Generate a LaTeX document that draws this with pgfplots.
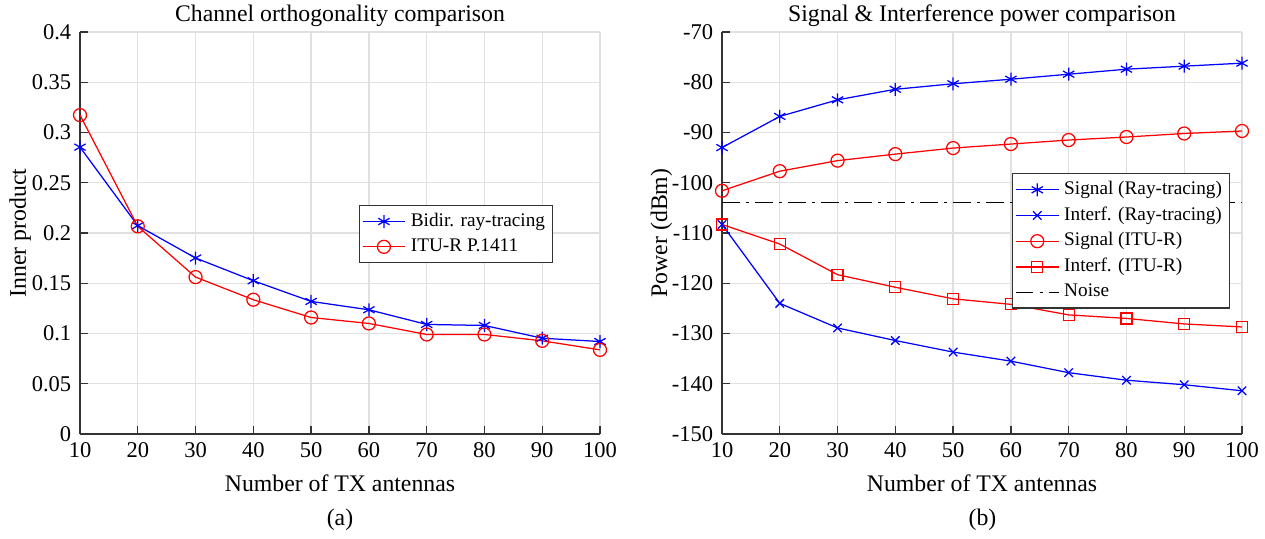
\documentclass[border=0pt]{standalone}
\usepackage{fontspec}
\setmainfont{Liberation Serif}
\usepackage{pgfplots}
\pgfplotsset{compat=1.18}

\pgfplotsset{
  mstyle/.style={
    scale only axis, width=208pt, height=160.8pt,
    anchor=south west,
    xmin=10, xmax=100, xtick={10,20,...,100},
    axis x line*=bottom, axis y line*=left,
    axis line style={line width=0.5pt, black!80},
    tick align=inside, major tick length=3pt,
    tick style={black!80, line width=0.5pt},
    grid=major, grid style={line width=0.5pt, black!12},
    font=\fontsize{9}{10.5}\selectfont,
    tick label style={font=\fontsize{9}{10.5}\selectfont},
    label style={font=\fontsize{9.5}{11}\selectfont},
    title style={font=\fontsize{9.5}{11}\selectfont, yshift=-7.5pt},
    /pgf/number format/assume math mode=true,
    legend style={font=\fontsize{7.7}{9}\selectfont, draw=black!80, line width=0.5pt,
      inner sep=1pt, row sep=-0.6pt, cells={anchor=west}},
    legend image post style={line width=0.5pt},
    xlabel={Number of TX antennas},
    xlabel style={yshift=0pt},
    every axis plot/.append style={line width=0.5pt},
  }
}

\begin{document}
\begin{tikzpicture}
\useasboundingbox (0pt,0pt) rectangle (506pt,215.6pt);

\begin{axis}[mstyle, at={(32pt,42pt)},
  ymin=0, ymax=0.4, ytick={0,0.05,...,0.4},
  yticklabels={0,0.05,0.1,0.15,0.2,0.25,0.3,0.35,0.4},
  ylabel={Inner product}, ylabel style={yshift=-6.5pt},
  title={Channel orthogonality comparison},
  legend style={at={(0.91,0.57)}, anchor=north east},
]
\addplot[blue, mark=asterisk, mark size=2.6pt] coordinates {
 (10,0.2854) (20,0.2073) (30,0.1751) (40,0.1525) (50,0.1319)
 (60,0.1236) (70,0.1090) (80,0.1080) (90,0.0953) (100,0.0920)};
\addlegendentry{Bidir. ray-tracing}
\addplot[red, mark=o, mark size=2.6pt] coordinates {
 (10,0.3173) (20,0.2066) (30,0.1561) (40,0.1336) (50,0.1159)
 (60,0.1100) (70,0.0990) (80,0.0990) (90,0.0927) (100,0.0837)};
\addlegendentry{ITU-R P.1411}
\end{axis}

\begin{axis}[mstyle, at={(288.8pt,42pt)},
  ymin=-150, ymax=-70, ytick={-150,-140,...,-70},
  ylabel={Power (dBm)}, ylabel style={yshift=-7pt},
  title={Signal \& Interference power comparison},
  legend style={at={(0.977,0.649)}, anchor=north east},
]
\addplot[blue, mark=asterisk, mark size=2.6pt] coordinates {
 (10,-93.0) (20,-86.8) (30,-83.5) (40,-81.4) (50,-80.3)
 (60,-79.4) (70,-78.4) (80,-77.4) (90,-76.8) (100,-76.2)};
\addlegendentry{Signal (Ray-tracing)}
\addplot[blue, mark=x, mark size=2.4pt] coordinates {
 (10,-108.3) (20,-124.0) (30,-128.9) (40,-131.4) (50,-133.7)
 (60,-135.5) (70,-137.8) (80,-139.3) (90,-140.2) (100,-141.4)};
\addlegendentry{Interf. (Ray-tracing)}
\addplot[red, mark=o, mark size=2.6pt] coordinates {
 (10,-101.6) (20,-97.7) (30,-95.6) (40,-94.3) (50,-93.1)
 (60,-92.3) (70,-91.5) (80,-90.9) (90,-90.2) (100,-89.7)};
\addlegendentry{Signal (ITU-R)}
\addplot[red, mark=square, mark size=2.2pt] coordinates {
 (10,-108.3) (20,-112.2) (30,-118.3) (40,-120.8) (50,-123.1)
 (60,-124.2) (70,-126.3) (80,-127.0) (90,-128.1) (100,-128.7)};
\addlegendentry{Interf. (ITU-R)}
\addplot[black, dash pattern=on 7pt off 2.5pt on 1.2pt off 2.5pt] coordinates {
 (10,-103.9) (100,-103.9)};
\addlegendentry{Noise}
\end{axis}

\node[font=\fontsize{9.5}{11}\selectfont] at (136pt,7.8pt) {(a)};
\node[font=\fontsize{9.5}{11}\selectfont] at (393pt,7.8pt) {(b)};
\end{tikzpicture}
\end{document}
